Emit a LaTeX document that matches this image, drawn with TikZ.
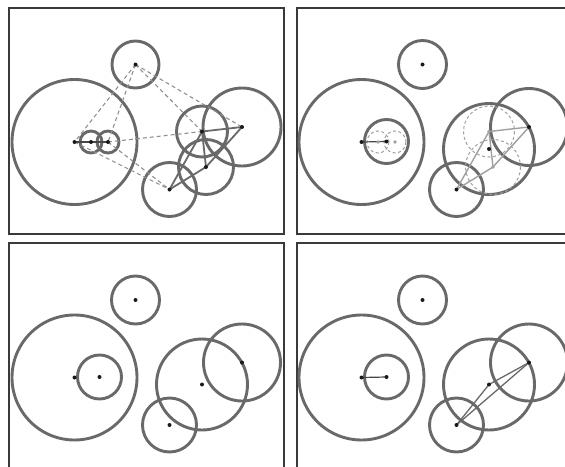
\documentclass[tikz,border=0pt]{standalone}
\usetikzlibrary{calc}
\definecolor{ringgray}{RGB}{105,105,105}
\definecolor{framegray}{RGB}{58,58,58}
\definecolor{linkgray}{RGB}{105,105,105}
\definecolor{faintgray}{RGB}{160,160,160}
\definecolor{hintgray}{RGB}{145,145,145}
\definecolor{dotgray}{RGB}{25,25,25}
\newcommand\setcenters{%
  \coordinate (T) at (135.5,64.5);
  \coordinate (G) at (74.5,142);
  \coordinate (s1) at (91,142);
  \coordinate (s2) at (108,142);
  \coordinate (M) at (99.5,141.5);
  \coordinate (A) at (202,131.5);
  \coordinate (B) at (242,127);
  \coordinate (C) at (206,167);
  \coordinate (D) at (169.5,189.5);
  \coordinate (E) at (202,149);
}
\tikzset{
  ring/.style={draw=ringgray, line width=2.9pt},
  ghost/.style={draw=faintgray, dash pattern=on 3pt off 2.5pt, line width=1pt},
  link/.style={draw=linkgray, line width=1.8pt},
  axis/.style={draw=dotgray!80, line width=1.2pt},
  faint/.style={draw=faintgray, line width=1.4pt},
  hint/.style={draw=hintgray, dash pattern=on 4pt off 3pt, line width=1.1pt},
  frame/.style={draw=framegray, line width=2.6pt},
}
\newcommand\pdot[1]{\fill[dotgray] (#1) circle[radius=2];}
\newcommand\ldot[1]{\fill[faintgray] (#1) circle[radius=1.8];}
\newcommand\commonrings{%
  \draw[ring] (T) circle[radius=24];
  \draw[ring] (G) circle[radius=62.5];
  \draw[ring] (M) circle[radius=22];
  \draw[ring] (E) circle[radius=45.5];
  \draw[ring] (B) circle[radius=38.5];
  \draw[ring] (D) circle[radius=27];
}
\begin{document}
\begin{tikzpicture}[x=1pt,y=-1pt]
\useasboundingbox (0,0) rectangle (565,466);
\clip (0,0) rectangle (565,466);
\fill[white] (0,0) rectangle (565,466);

% frames
\draw[frame] (9,8) rectangle (284,234);
\draw[frame] (575,8) -- (297,8) -- (297,234) -- (575,234);
\draw[frame] (9,475) -- (9,243) -- (284,243) -- (284,475);
\draw[frame] (297,475) -- (297,243) -- (575,243);

% panel 1
\begin{scope}
\setcenters
\draw[ring] (T) circle[radius=23.5];
\draw[ring] (G) circle[radius=62.5];
\draw[ring] (s1) circle[radius=11];
\draw[ring] (s2) circle[radius=11];
\draw[ring] (A) circle[radius=25.5];
\draw[ring] (B) circle[radius=39];
\draw[ring] (C) circle[radius=27.5];
\draw[ring] (D) circle[radius=27];
\draw[hint] (T) -- (G);
\draw[hint] (T) -- (s2);
\draw[hint] (T) -- (A);
\draw[hint] (T) -- (B);
\draw[hint] (s2) -- (A);
\draw[hint] (G) -- (D);
\draw[hint] (s2) -- (D);
\draw[axis] (G) -- (s1) -- (s2);
\draw[link] (A) -- (B);
\draw[link] (A) -- (C);
\draw[link] (A) -- (D);
\draw[link] (B) -- (C);
\draw[link] (C) -- (D);
\foreach \p in {T,G,s1,s2,A,B,C,D} {\pdot{\p}}
\end{scope}

% panel 2
\begin{scope}[shift={(287,0)}]
\setcenters
\commonrings
\draw[ghost] (s1) circle[radius=11];
\draw[ghost] (s2) circle[radius=11];
\draw[ghost] (A) circle[radius=25.5];
\draw[ghost] (C) circle[radius=27.5];
\draw[faint] (A) -- (B);
\draw[faint] (A) -- (C);
\draw[faint] (A) -- (D);
\draw[faint] (B) -- (C);
\draw[faint] (C) -- (D);
\draw[axis] (G) -- (M);
\foreach \p in {s1,s2,A,C} {\ldot{\p}}
\foreach \p in {T,G,M,E,B,D} {\pdot{\p}}
\end{scope}

% panel 3
\begin{scope}[shift={(0,235.5)}]
\setcenters
\commonrings
\foreach \p in {T,G,M,E,B,D} {\pdot{\p}}
\end{scope}

% panel 4
\begin{scope}[shift={(287,235.5)}]
\setcenters
\commonrings
\draw[axis] (G) -- (M);
\draw[link, line width=1.3pt] (D) -- (E);
\draw[link, line width=1.3pt] (E) -- (B);
\draw[link, line width=1.3pt] (D) -- (B);
\foreach \p in {T,G,M,E,B,D} {\pdot{\p}}
\end{scope}
\end{tikzpicture}
\end{document}
